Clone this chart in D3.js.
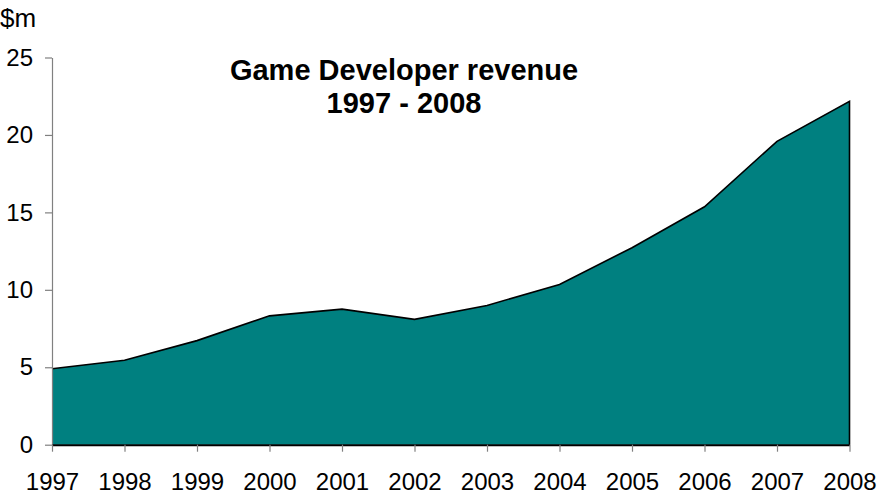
<!DOCTYPE html>
<html>
<head>
<meta charset="utf-8">
<script src="https://cdn.jsdelivr.net/npm/d3@7"></script>
<style>
  html, body { margin: 0; padding: 0; background: #fff; }
  svg { display: block; font-family: "Liberation Sans", Arial, sans-serif; }
</style>
</head>
<body>
<svg id="chart" width="878" height="495"></svg>
<script>
// Annual revenue, $m
const years = ["1997","1998","1999","2000","2001","2002","2003","2004","2005","2006","2007","2008"];
const revenue = [4.9, 5.45, 6.72, 8.32, 8.75, 8.09, 8.99, 10.35, 12.72, 15.36, 19.59, 22.17];
const yTicks = [0, 5, 10, 15, 20, 25];
const titleLines = ["Game Developer revenue", "1997 - 2008"];
const unitLabel = "$m";

const svg = d3.select("#chart");
const plot = { left: 52, right: 849.5, top: 57.5, bottom: 444.7 };

const x = d3.scalePoint().domain(years).range([plot.left, plot.right]);
const y = d3.scaleLinear().domain([0, 25]).range([plot.bottom, plot.top]);

const data = years.map((yr, i) => ({ year: yr, value: revenue[i] }));

// Filled area under the revenue line
const area = d3.area()
  .x(d => x(d.year))
  .y0(y(0))
  .y1(d => y(d.value));

svg.append("path")
  .datum(data)
  .attr("d", area)
  .attr("fill", "#008080")
  .attr("stroke", "none");

// Outline along the top and right edge
const outline = data.map(d => [x(d.year), y(d.value)]);
outline.push([x(years[years.length - 1]), y(0)]);
svg.append("path")
  .attr("d", d3.line()(outline))
  .attr("fill", "none")
  .attr("stroke", "#000")
  .attr("stroke-width", 1.6)
  .attr("stroke-linejoin", "miter");

// Y axis
const yAxis = svg.append("g")
  .attr("transform", `translate(${plot.left},0)`)
  .call(d3.axisLeft(y).tickValues(yTicks).tickSize(7).tickPadding(12).tickSizeOuter(0));
yAxis.select(".domain").attr("stroke", "#808080").attr("stroke-width", 1.2);
yAxis.selectAll(".tick line").attr("stroke", "#808080").attr("stroke-width", 1.2);
yAxis.selectAll(".tick text")
  .attr("font-size", 24)
  .attr("fill", "#000")
  .attr("font-family", "Liberation Sans, Arial, sans-serif");

// X axis
const xAxis = svg.append("g")
  .attr("transform", `translate(0,${plot.bottom})`)
  .call(d3.axisBottom(x).tickSize(7).tickPadding(21).tickSizeOuter(0));
xAxis.select(".domain").attr("stroke", "#000").attr("stroke-width", 2);
xAxis.selectAll(".tick line").attr("stroke", "#808080").attr("stroke-width", 1.2);
xAxis.selectAll(".tick text")
  .attr("font-size", 24)
  .attr("fill", "#000")
  .attr("font-family", "Liberation Sans, Arial, sans-serif");

// Unit label
svg.append("text")
  .attr("x", 0).attr("y", 26.5)
  .attr("font-size", 26)
  .text(unitLabel);

// Title, two centred lines
const title = svg.append("text")
  .attr("text-anchor", "middle")
  .attr("font-weight", "bold")
  .attr("font-size", 29);
titleLines.forEach((t, i) => {
  title.append("tspan")
    .attr("x", 404)
    .attr("y", 80 + i * 33)
    .text(t);
});
</script>
</body>
</html>
